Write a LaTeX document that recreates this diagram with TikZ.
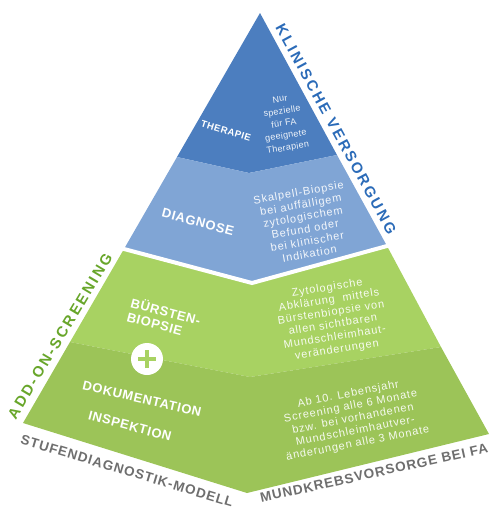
\documentclass[tikz,border=0pt]{standalone}
\usepackage{fontspec}
\setmainfont{Liberation Sans}
\definecolor{bluedark}{HTML}{4C7EBF}
\definecolor{bluelight}{HTML}{80A5D5}
\definecolor{greenlight}{HTML}{A8D262}
\definecolor{greendark}{HTML}{9CC458}
\definecolor{labelblue}{HTML}{2B6BB8}
\definecolor{labelgreen}{HTML}{68A62A}
\definecolor{labelgray}{HTML}{6E6E6E}
\begin{document}
\begin{tikzpicture}[x=1pt,y=-1pt,
  capsinner/.style={inner sep=0pt, text=white,
    font=\fontsize{13}{14.5}\selectfont\bfseries\addfontfeatures{LetterSpace=5}},
  capssmall/.style={inner sep=0pt, text=white,
    font=\fontsize{9.5}{11}\selectfont\bfseries\addfontfeatures{LetterSpace=5}},
  bodytext/.style={inner sep=0pt, text=white, text opacity=0.9, align=center,
    font=\fontsize{11}{12.5}\selectfont\addfontfeatures{LetterSpace=8}},
  bodysmall/.style={inner sep=0pt, text=white, text opacity=0.9, align=center,
    font=\fontsize{9}{12.3}\selectfont\addfontfeatures{LetterSpace=3}},
  sidelabel/.style={inner sep=0pt,
    font=\fontsize{15}{16}\selectfont\bfseries\addfontfeatures{LetterSpace=16}},
  baselabel/.style={inner sep=0pt, text=labelgray,
    font=\fontsize{13.5}{15}\selectfont\bfseries\addfontfeatures{LetterSpace=7}},
]
\useasboundingbox (0,0) rectangle (490,515);

% corner points of the pyramid and its layers
\coordinate (A)  at (260,13);
\coordinate (L1) at (177,157); \coordinate (V1) at (249,173); \coordinate (R1) at (337,155);
\coordinate (L2) at (124,249); \coordinate (V2) at (252,283); \coordinate (R2) at (387,246);
\coordinate (L4) at (70,342);  \coordinate (V4) at (250,377); \coordinate (R4) at (441,347);
\coordinate (LB) at (23,423);  \coordinate (VB) at (247,493); \coordinate (RB) at (489,434);

% layers
\fill[bluedark]   (A) -- (R1) -- (V1) -- (L1) -- cycle;
\fill[bluelight]  (L1) -- (V1) -- (R1) -- (R2) -- (V2) -- (L2) -- cycle;
\fill[greenlight] (L2) -- (V2) -- (R2) -- (R4) -- (V4) -- (L4) -- cycle;
\fill[greendark]  (L4) -- (V4) -- (R4) -- (RB) -- (VB) -- (LB) -- cycle;
% white gap between clinical care and screening
\draw[white, line width=4pt, shorten <=-4pt, shorten >=-4pt] (L2) -- (V2) -- (R2);

% left face labels
\node[capssmall, rotate=-17] (ther) at (226,131) {THERAPIE};
\node[capsinner, rotate=-15] (diag) at (198,222) {DIAGNOSE};
\node[capsinner, rotate=-15, align=left] (bürst) at (164,318) {BÜRSTEN-\\BIOPSIE};
\node[circle, fill=white, minimum size=32pt, inner sep=0pt] (plus) at (147,359) {};
\draw[greenlight, line width=4.5pt] ([xshift=-9pt]plus.center) -- ([xshift=9pt]plus.center);
\draw[greenlight, line width=4.5pt] ([yshift=-9pt]plus.center) -- ([yshift=9pt]plus.center);
\node[capsinner, rotate=-13] (doku) at (142,399) {DOKUMENTATION};
\node[capsinner, rotate=-15] (insp) at (130,426) {INSPEKTION};

% right face descriptions
\node[bodysmall, rotate=9] (thertext) at (284,124)
  {Nur\\spezielle\\für FA\\geeignete\\Therapien};
\node[bodytext, rotate=10] (diagtext) at (304,223)
  {Skalpell-Biopsie\\bei auffälligem\\zytologischem\\Befund oder\\bei klinischer\\Indikation};
\node[bodytext, rotate=9] (bürsttext) at (332,319)
  {Zytologische\\Abklärung\ \ mittels\\Bürstenbiopsie von\\allen sichtbaren\\Mundschleimhaut-\\veränderungen};
\node[bodytext, rotate=11] (insptext) at (353,419)
  {Ab 10. Lebensjahr\\Screening alle 6 Monate\\bzw. bei vorhandenen\\Mundschleimhautver-\\änderungen alle 3 Monate};

% labels along the edges
\node[sidelabel, text=labelblue, rotate=-61.5] (klin) at (336,129) {KLINISCHE VERSORGUNG};
\node[sidelabel, text=labelgreen, rotate=59.2] (addon) at (60,336) {ADD-ON-SCREENING};
\node[baselabel, rotate=-16.7] (stufe) at (127,471) {STUFENDIAGNOSTIK-MODELL};
\node[baselabel, rotate=12.4] (mund) at (374,473) {MUNDKREBSVORSORGE BEI FA};
\end{tikzpicture}
\end{document}
